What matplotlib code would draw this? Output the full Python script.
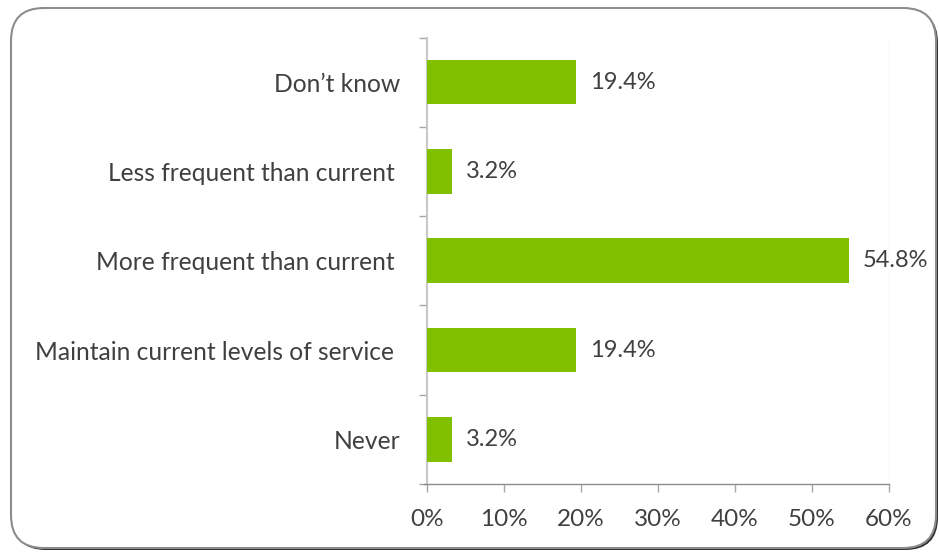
import matplotlib.pyplot as plt
from matplotlib.patches import FancyBboxPatch
from matplotlib.ticker import FixedLocator, FuncFormatter

# Survey answers, bottom to top as drawn
categories = ["Never", "Maintain current levels of service ", "More frequent than current ",
              "Less frequent than current ", "Don\u2019t know"]
shares = [3.2, 19.4, 54.8, 3.2, 19.4]

plt.rcParams['font.family'] = ['Lato', 'DejaVu Sans']
text_color = '#404040'

fig = plt.figure(figsize=(9.39, 5.52), dpi=100)

# rounded frame with a soft shadow on the lower right
shadow = FancyBboxPatch((13 / 939, 2 / 552), 925 / 939, 540 / 552,
                        boxstyle="round,pad=0,rounding_size=0.035",
                        transform=fig.transFigure, facecolor='#303030',
                        edgecolor='none', zorder=-2, mutation_aspect=939 / 552)
fig.patches.append(shadow)
frame = FancyBboxPatch((11 / 939, 4 / 552), 925 / 939, 540 / 552,
                       boxstyle="round,pad=0,rounding_size=0.035",
                       transform=fig.transFigure, facecolor='white',
                       edgecolor='#8c8c8c', linewidth=1.5, zorder=-1,
                       mutation_aspect=939 / 552)
fig.patches.append(frame)

ax = fig.add_axes([427 / 939, 1 - 484 / 552, 462 / 939, (484 - 37.5) / 552])
ax.set_zorder(2)
ax.set_facecolor('none')
ypos = list(range(len(categories)))
ax.barh(ypos, shares, height=0.5, color='#80c000', zorder=3)

for y, v in zip(ypos, shares):
    ax.text(v + 1.8, y, f"{v:.1f}%", va='center', ha='left',
            fontsize=17, color=text_color)

ax.set_xlim(0, 60)
ax.set_ylim(-0.5, len(categories) - 0.5)
ax.set_xticks(range(0, 61, 10))
ax.xaxis.set_major_formatter(FuncFormatter(lambda v, p: f"{v:.0f}%"))
ax.set_yticks(ypos)
ax.set_yticklabels(categories)
ax.yaxis.set_minor_locator(FixedLocator([i - 0.5 for i in range(len(categories) + 1)]))

ax.tick_params(axis='y', which='major', length=0, pad=19, labelsize=17.7, labelcolor=text_color)
ax.tick_params(axis='y', which='minor', length=6, color='#a6a6a6', width=1)
ax.tick_params(axis='x', length=6, color='#a6a6a6', width=1, pad=12,
               labelsize=17.5, labelcolor=text_color)

for side in ['top', 'right']:
    ax.spines[side].set_visible(False)
ax.spines['left'].set_color('#c8c8c8')
ax.spines['left'].set_linewidth(1.5)
ax.spines['bottom'].set_color('#8c8c8c')
ax.spines['bottom'].set_linewidth(1)
ax.spines['bottom'].set_bounds(-0.4, 60)
ax.axvline(60, color='#f2f2f2', linewidth=1, zorder=1)

fig.savefig('out.png', dpi=100)
